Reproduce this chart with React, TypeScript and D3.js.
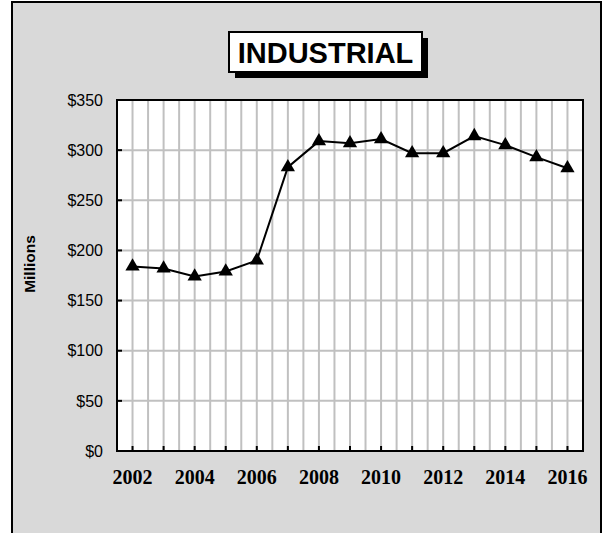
import React from "react";
import * as d3 from "d3";

const years = [2002, 2003, 2004, 2005, 2006, 2007, 2008, 2009, 2010, 2011, 2012, 2013, 2014, 2015, 2016];
const values = [184, 182, 174, 179, 190, 283, 309, 307, 311, 297, 297, 314, 305, 293, 282];
const yTicks = [0, 50, 100, 150, 200, 250, 300, 350];
const xLabelYears = [2002, 2004, 2006, 2008, 2010, 2012, 2014, 2016];
const title = "INDUSTRIAL";
const yTitle = "Millions";

export default function App() {
  const W = 603, H = 533;
  const left = 117, right = 583, top = 100, bottom = 451;
  const x = d3.scaleBand<number>().domain(years).range([left, right]);
  const bw = x.bandwidth();
  const cx = (yr: number) => (x(yr) as number) + bw / 2;
  const y = d3.scaleLinear().domain([0, 350]).range([bottom, top]);
  const line = d3.line<number>().x((_, i) => cx(years[i])).y((v) => y(v));
  const tri = d3.symbol().type(d3.symbolTriangle).size(88)();

  const vGrid: number[] = [];
  years.forEach((yr) => {
    vGrid.push(cx(yr));
    if (yr !== years[0]) vGrid.push(x(yr) as number);
  });

  return (
    <svg width={W} height={H} style={{ position: "absolute", left: 0, top: 0 }}>
      <rect x={0} y={0} width={W} height={H} fill="#ffffff" />
      <rect x={12} y={2} width={589} height={560} fill="#d9d9d9" stroke="#000" strokeWidth={2} />
      {/* title */}
      <rect x={235} y={38} width={193} height={40} fill="#000" />
      <rect x={229} y={32} width={193} height={40} fill="#fff" stroke="#000" strokeWidth={2} />
      <text x={325.5} y={63} textAnchor="middle" fontFamily="'Liberation Sans', Arial, sans-serif" fontWeight="bold" fontSize={29}>
        {title}
      </text>
      {/* plot area */}
      <rect x={left} y={top} width={right - left} height={bottom - top} fill="#fff" />
      {vGrid.map((gx, i) => (
        <line key={"v" + i} x1={gx} x2={gx} y1={top} y2={bottom} stroke="#c0c0c0" strokeWidth={2} />
      ))}
      {yTicks.map((t) => (
        <line key={"h" + t} x1={left} x2={right} y1={y(t)} y2={y(t)} stroke="#c0c0c0" strokeWidth={2} />
      ))}
      {yTicks.map((t) => (
        <line key={"yt" + t} x1={left} x2={left + 5} y1={y(t)} y2={y(t)} stroke="#000" strokeWidth={2} />
      ))}
      {years.map((yr) => (
        <line key={"xt" + yr} x1={cx(yr)} x2={cx(yr)} y1={bottom} y2={bottom - 5} stroke="#000" strokeWidth={2} />
      ))}
      <rect x={left} y={top} width={right - left} height={bottom - top} fill="none" stroke="#000" strokeWidth={2} />
      {/* y labels */}
      {yTicks.map((t) => (
        <text key={"yl" + t} x={103} y={y(t)} dy="0.36em" textAnchor="end" fontFamily="'Liberation Sans', Arial, sans-serif" fontSize={16}>
          {"$" + t}
        </text>
      ))}
      {xLabelYears.map((yr) => (
        <text key={"xl" + yr} x={cx(yr)} y={484} textAnchor="middle" fontFamily="'Liberation Serif', 'Times New Roman', serif" fontWeight="bold" fontSize={20}>
          {yr}
        </text>
      ))}
      <text transform="translate(35,264) rotate(-90)" textAnchor="middle" fontFamily="'Liberation Sans', Arial, sans-serif" fontWeight="bold" fontSize={15.5}>
        {yTitle}
      </text>
      {/* series */}
      <path d={line(values) || ""} fill="none" stroke="#000" strokeWidth={2} />
      {values.map((v, i) => (
        <path key={"m" + i} d={tri || ""} transform={`translate(${cx(years[i])},${y(v)})`} fill="#000" />
      ))}
    </svg>
  );
}
